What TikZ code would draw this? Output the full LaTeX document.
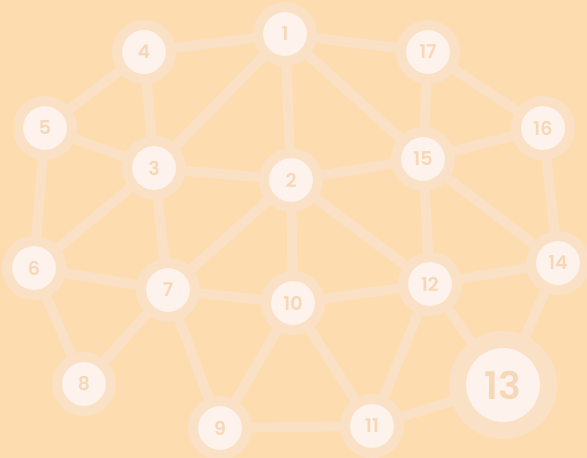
\documentclass[tikz,border=0pt]{standalone}
\usepackage{fontspec}
\setmainfont{Poppins}[BoldFont={Poppins SemiBold}]
\definecolor{bgc}{HTML}{FDDDB0}
\definecolor{edgec}{HTML}{FAE0C5}
\definecolor{fillc}{HTML}{FDF3EC}
\definecolor{txtc}{HTML}{F6D8B8}
\tikzset{
  vtx/.style={circle, fill=fillc, draw=edgec, line width=10pt, minimum size=54pt, inner sep=0pt, text=txtc, font=\fontsize{19}{19}\selectfont\bfseries},
  bigvtx/.style={vtx, minimum size=91pt, line width=17pt, font=\fontsize{38}{38}\selectfont\bfseries},
  link/.style={edgec, line width=10pt}
}
\begin{document}
\begin{tikzpicture}[x=1pt,y=-1pt]
\fill[bgc] (0,0) rectangle (587,458);
\useasboundingbox (0,0) rectangle (587,458);
\coordinate (p1) at (285,34);
\coordinate (p2) at (291,180);
\coordinate (p3) at (154,168);
\coordinate (p4) at (144,52);
\coordinate (p5) at (45,128);
\coordinate (p6) at (34,268);
\coordinate (p7) at (168,290);
\coordinate (p8) at (84,384);
\coordinate (p9) at (220,428);
\coordinate (p10) at (293,303);
\coordinate (p11) at (372,426);
\coordinate (p12) at (430,284);
\coordinate (p13) at (503,385);
\coordinate (p14) at (558,263);
\coordinate (p15) at (423,159);
\coordinate (p16) at (543,128);
\coordinate (p17) at (428,52);
\foreach \a/\b in {1/4,1/17,1/3,1/2,1/15,4/5,4/3,5/3,5/6,3/2,3/6,3/7,2/7,2/10,2/15,2/12,6/7,6/8,7/8,7/9,7/10,10/12,10/9,10/11,9/11,11/12,11/13,12/13,12/14,12/15,15/17,15/16,15/14,16/17,16/14,14/13}
  \draw[link] (p\a) -- (p\b);
\foreach \i in {1,2,3,4,5,6,7,8,9,10,11,12,14,15,16,17}
  \node[vtx] (n\i) at (p\i) {\i};
\node[bigvtx] (n13) at (p13) {13};
\end{tikzpicture}
\end{document}
